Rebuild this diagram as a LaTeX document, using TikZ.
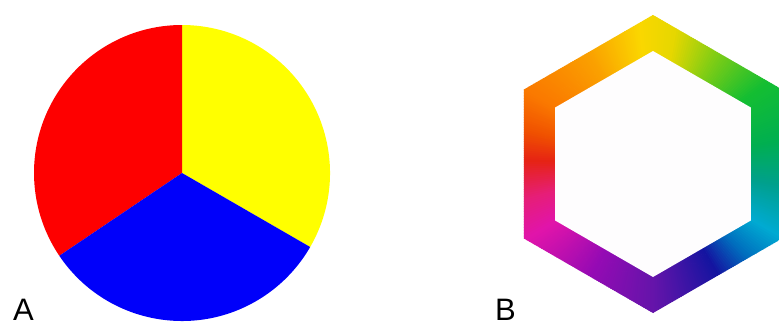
\documentclass[tikz,border=0pt]{standalone}
\usepackage{fontspec}
\setmainfont{Liberation Sans}
\definecolor{pred}{RGB}{254,0,0}
\definecolor{pyel}{RGB}{255,255,0}
\definecolor{pblu}{RGB}{0,0,250}
\definecolor{s1}{RGB}{100,20,170}
\definecolor{s2}{RGB}{20,20,160}
\definecolor{s3}{RGB}{0,110,190}
\definecolor{s4}{RGB}{0,170,210}
\definecolor{s5}{RGB}{0,160,140}
\definecolor{s6}{RGB}{0,175,80}
\definecolor{s7}{RGB}{20,190,50}
\definecolor{s8}{RGB}{130,205,20}
\definecolor{s9}{RGB}{230,215,0}
\definecolor{s10}{RGB}{250,215,0}
\definecolor{s11}{RGB}{250,160,0}
\definecolor{s12}{RGB}{250,120,0}
\definecolor{s13}{RGB}{240,80,0}
\definecolor{s14}{RGB}{230,35,20}
\definecolor{s15}{RGB}{230,30,120}
\definecolor{s16}{RGB}{225,20,170}
\definecolor{s17}{RGB}{150,10,180}
\definecolor{inner}{RGB}{254,253,254}
\tikzset{lab/.style={font=\fontsize{31}{31}\selectfont, inner sep=0pt, anchor=base west}}
\begin{document}
\begin{tikzpicture}[x=1pt,y=1pt]
\useasboundingbox (0,0) rectangle (779,325);
\fill[white] (0,0) rectangle (779,325);
% Pie A
\begin{scope}[shift={(182,152)}]
\fill[pyel] (0,0) -- (-30:148) arc[start angle=-30,end angle=90,radius=148] -- cycle;
\fill[pred] (0,0) -- (90:148) arc[start angle=90,end angle=214,radius=148] -- cycle;
\fill[pblu] (0,0) -- (214:148) arc[start angle=214,end angle=330,radius=148] -- cycle;
\end{scope}
% Hexagon B
\begin{scope}[shift={(653,161)}]
\clip (90:149) -- (150:149) -- (210:149) -- (270:149) -- (330:149) -- (30:149) -- cycle;
\foreach \aa/\ab/\ca/\cb in {-90/-60/s1/s2,-60/-45/s2/s3,-45/-30/s3/s4,-30/-10/s4/s5,-10/10/s5/s6,10/35/s6/s7,35/60/s7/s8,60/80/s8/s9,80/95/s9/s10,95/120/s10/s11,120/150/s11/s12,150/165/s12/s13,165/178/s13/s14,178/195/s14/s15,195/210/s15/s16,210/240/s16/s17,240/270/s17/s1}{
  \pgfmathtruncatemacro\n{\ab-\aa}
  \pgfmathtruncatemacro\m{\n-1}
  \foreach \i in {0,...,\m}{
    \pgfmathsetmacro\ta{\aa+\i}
    \pgfmathsetmacro\tb{\aa+\i+1.3}
    \pgfmathtruncatemacro\p{100*\i/\n}
    \fill[\cb!\p!\ca] (0,0) -- (\ta:170) -- (\tb:170) -- cycle;
  }
}
\fill[inner] (90:113) -- (150:113) -- (210:113) -- (270:113) -- (330:113) -- (30:113) -- cycle;
\end{scope}
\node[lab] (la) at (13,5) {A};
\node[lab] (lb) at (495,5) {B};
\end{tikzpicture}
\end{document}
